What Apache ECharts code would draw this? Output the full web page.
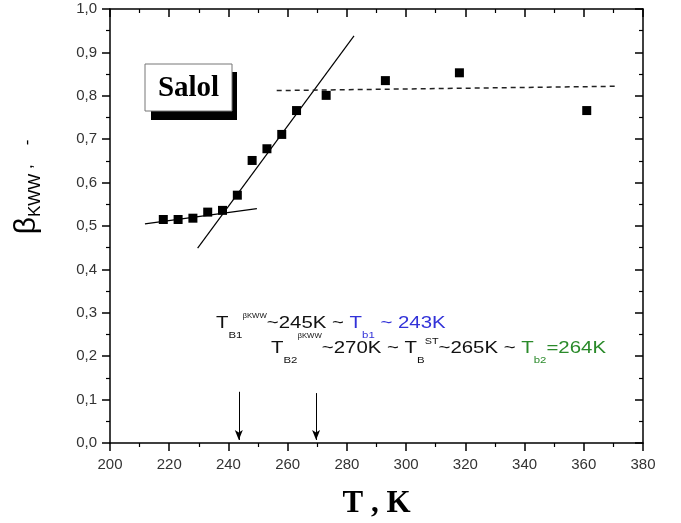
<!DOCTYPE html>
<html>
<head>
<meta charset="utf-8">
<script src="https://cdn.jsdelivr.net/npm/echarts@6/dist/echarts.min.js"></script>
<style>
    html,body{margin:0;padding:0;background:#fff;}
    #chart{width:681px;height:523px;}
</style>
</head>
<body>
<div id="chart"></div>
<script>
/*测量点 T(K) 与 beta_KWW*/
var tempK = [218, 223, 228, 233, 238, 243, 248, 253, 258, 263, 273, 293, 318, 361];
var betaKWW = [0.515, 0.515, 0.518, 0.532, 0.536, 0.571, 0.651, 0.678, 0.711, 0.766, 0.801, 0.835, 0.853, 0.766];

/*拟合直线 两端点*/
var lowFitT = [211.8, 249.6];
var lowFitB = [0.505, 0.540];
var steepFitT = [229.6, 282.4];
var steepFitB = [0.449, 0.938];
var plateauT = [256.3, 371.7];
var plateauB = [0.812, 0.822];

/*箭头 T_B1, T_B2*/
var arrowT = [243.5, 269.6];
var arrowTop = [0.118, 0.115];
var arrowTip = [0.007, 0.007];

var xTicks = [200, 380, 20];
var yTicks = [0, 1, 0.1];

function pairs(xs, ys){
    var out = [];
    for(var i = 0; i < xs.length; i++){
        out.push([xs[i], ys[i]]);
    }
    return out;
}

var arrowData = [];
for(var i = 0; i < arrowT.length; i++){
    arrowData.push([{coord:[arrowT[i], arrowTop[i]]}, {coord:[arrowT[i], arrowTip[i]]}]);
}

var sans = '"Liberation Sans", Arial, sans-serif';
var serif = '"Liberation Serif", "Times New Roman", serif';
var blue = '#3232d8';
var green = '#2a8a2a';

function axisBase(extra){
    var a = {
        type:'value',
        splitLine:{show:false},
        axisLine:{show:true, onZero:false, lineStyle:{color:'#000', width:1.5}},
        axisTick:{show:true, length:8, lineStyle:{color:'#000', width:1.5}},
        minorTick:{show:true, splitNumber:2, length:4, lineStyle:{color:'#000', width:1.2}},
        axisLabel:{show:false}
    };
    for(var k in extra){ a[k] = extra[k]; }
    return a;
}

/*注释 rich 样式*/
function annoRich(){
    var r = {};
    var cols = {'':'#111', b:blue, g:green};
    for(var c in cols){
        r[c + 't'] = {fontSize:17, fontFamily:sans, fill:cols[c], lineHeight:34};
        r[c + 'sub'] = {fontSize:9.5, fontFamily:sans, fill:cols[c], verticalAlign:'bottom', lineHeight:14};
    }
    r.sup = {fontSize:6.5, fontFamily:sans, fill:'#111', verticalAlign:'top', padding:[7, 0, 0, 0]};
    r.supHi = {fontSize:6.5, fontFamily:sans, fill:'#111', verticalAlign:'top', padding:[2, 0, 0, 0]};
    r.sup2 = {fontSize:9, fontFamily:sans, fill:'#111', verticalAlign:'top', padding:[6, 0, 0, 0]};
    return r;
}

var tickLabel = {fontSize:15, color:'#333', fontFamily:sans};

var chart = echarts.init(document.getElementById('chart'));
var option = {
    animation:false,
    backgroundColor:'#fff',
    grid:{left:110, right:38, top:9, bottom:80, containLabel:false, outerBoundsMode:'none'},
    xAxis:[
        axisBase({
            min:xTicks[0], max:xTicks[1], interval:xTicks[2], position:'bottom',
            axisLabel:Object.assign({show:true, margin:14, showMinLabel:true, showMaxLabel:true}, tickLabel),
            name:'T , K', nameLocation:'middle', nameGap:45,
            nameTextStyle:{fontSize:31, fontWeight:'bold', fontFamily:serif, color:'#000'}
        }),
        axisBase({
            min:xTicks[0], max:xTicks[1], interval:xTicks[2], position:'top',
            axisTick:{show:true, inside:true, length:8, lineStyle:{color:'#000', width:1.5}}
        })
    ],
    yAxis:[
        axisBase({
            min:yTicks[0], max:yTicks[1], interval:yTicks[2], position:'left',
            axisLabel:Object.assign({show:true, margin:13, showMinLabel:true, showMaxLabel:true,
                formatter:function(v){ return v.toFixed(1).replace('.', ','); }}, tickLabel)
        }),
        axisBase({
            min:yTicks[0], max:yTicks[1], interval:yTicks[2], position:'right',
            axisTick:{show:true, inside:true, length:8, lineStyle:{color:'#000', width:1.5}}
        })
    ],
    series:[
        {
            type:'line', data:pairs(lowFitT, lowFitB), symbol:'none', z:2,
            lineStyle:{color:'#000', width:1.2}
        },
        {
            type:'line', data:pairs(steepFitT, steepFitB), symbol:'none', z:2,
            lineStyle:{color:'#000', width:1.2}
        },
        {
            type:'line', data:pairs(plateauT, plateauB), symbol:'none', z:2,
            lineStyle:{color:'#222', width:1.5, type:[5, 4]}
        },
        {
            type:'scatter', data:pairs(tempK, betaKWW), symbol:'rect', symbolSize:9, z:3,
            itemStyle:{color:'#000', opacity:1},
            markLine:{
                silent:true, symbol:['none', 'arrow'], symbolSize:[6, 10],
                label:{show:false},
                lineStyle:{color:'#000', width:1, type:'solid'},
                data:arrowData
            }
        }
    ],
    graphic:[
        /*Salol 标签框*/
        {type:'rect', shape:{x:151, y:72, width:86, height:48}, style:{fill:'#000'}},
        {type:'rect', shape:{x:145, y:64, width:87, height:47}, style:{fill:'#fff', stroke:'#777', lineWidth:1}},
        {type:'text', x:188.5, y:88.5, style:{text:'Salol', fontSize:29, fontWeight:'bold', fontFamily:serif,
            fill:'#000', align:'center', verticalAlign:'middle'}},
        /*纵轴标题*/
        {type:'text', x:27, y:187, rotation:Math.PI / 2, style:{
            text:'{b|β}{s|KWW}{c| ,    -}', align:'center', verticalAlign:'middle',
            rich:{
                b:{fontSize:30, fontFamily:sans, fill:'#000', lineHeight:34},
                s:{fontSize:17, fontFamily:sans, fill:'#000', lineHeight:20, verticalAlign:'bottom'},
                c:{fontSize:17, fontFamily:sans, fill:'#000', lineHeight:34}
            }
        }},
        /*注释文字*/
        {type:'text', x:216, y:306, scaleX:1.2, style:{
            text:'{t|T}{sub|B1}{sup|βKWW}{t|~245K ~ }{bt|T}{bsub|b1}{bt| ~ 243K}',
            align:'left', verticalAlign:'top', rich:annoRich()
        }},
        {type:'text', x:271, y:331, scaleX:1.2, style:{
            text:'{t|T}{sub|B2}{supHi|βKWW}{t|~270K ~ T}{sub|B}{sup2|ST}{t|~265K ~ }{gt|T}{gsub|b2}{gt|=264K}',
            align:'left', verticalAlign:'top', rich:annoRich()
        }}
    ]
};
chart.setOption(option);
</script>
</body>
</html>
